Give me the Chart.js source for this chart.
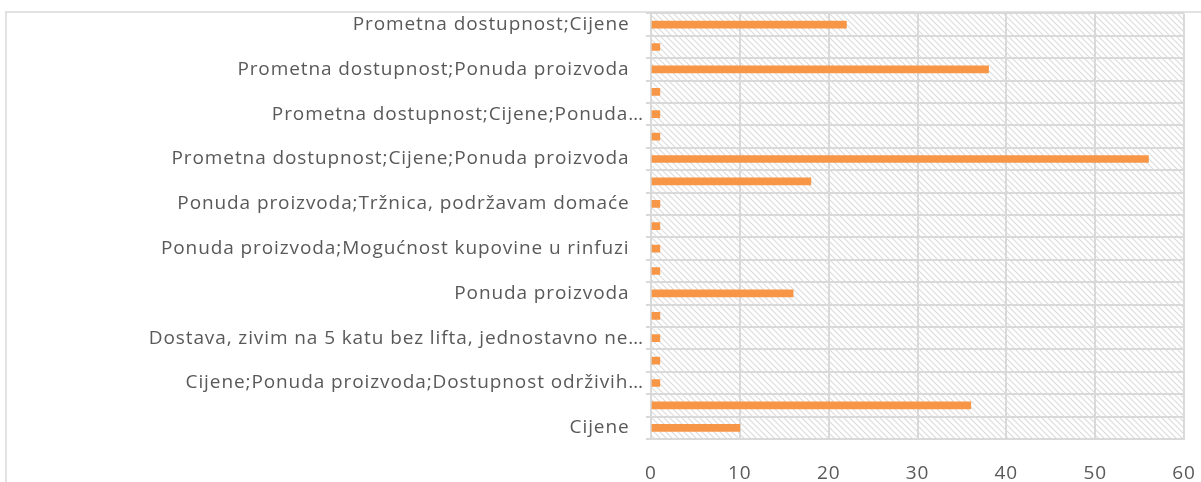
<!DOCTYPE html>
<html>
<head>
<meta charset="utf-8">
<script src="https://cdn.jsdelivr.net/npm/chart.js@4"></script>
<style>
  html, body { margin: 0; padding: 0; background: #ffffff; }
  #wrap { width: 1201px; height: 482px; position: relative; }
</style>
</head>
<body>
<div id="wrap"><canvas id="c" width="1201" height="482"></canvas></div>
<script>
// Categories listed top to bottom as they appear; empty strings are categories whose labels are hidden in the reference
const categories = [
  "Prometna dostupnost;Cijene",
  "",
  "Prometna dostupnost;Ponuda proizvoda",
  "",
  "Prometna dostupnost;Cijene;Ponuda…",
  "",
  "Prometna dostupnost;Cijene;Ponuda proizvoda",
  "",
  "Ponuda proizvoda;Tržnica, podržavam domaće",
  "",
  "Ponuda proizvoda;Mogućnost kupovine u rinfuzi",
  "",
  "Ponuda proizvoda",
  "",
  "Dostava, zivim na 5 katu bez lifta, jednostavno ne…",
  "",
  "Cijene;Ponuda proizvoda;Dostupnost održivih…",
  "",
  "Cijene"
];
const values = [22, 1, 38, 1, 1, 1, 56, 18, 1, 1, 1, 1, 16, 1, 1, 1, 1, 36, 10];
const xTicks = [0, 10, 20, 30, 40, 50, 60];

const GRID = '#d9d9d9';
const TEXT = '#595959';
const FONT = 'Open Sans';

function makeHatch() {
  const s = 6;
  const c = document.createElement('canvas');
  c.width = s; c.height = s;
  const g = c.getContext('2d');
  g.fillStyle = '#ffffff';
  g.fillRect(0, 0, s, s);
  g.strokeStyle = '#dcdcdc';
  g.lineWidth = 1.2;
  for (let k = -1; k <= 1; k++) {
    g.beginPath();
    g.moveTo(k * s - 1, -1);
    g.lineTo(k * s + s + 1, s + 1);
    g.stroke();
  }
  return c;
}

const bgPlugin = {
  id: 'bg',
  beforeDraw(chart) {
    const { ctx, chartArea: a } = chart;
    ctx.letterSpacing = '0.9px';
    ctx.save();
    ctx.fillStyle = ctx.createPattern(makeHatch(), 'repeat');
    ctx.fillRect(a.left, a.top, a.right - a.left, a.bottom - a.top);
    ctx.restore();
  },
  afterDraw(chart) {
    const ctx = chart.ctx;
    ctx.save();
    ctx.strokeStyle = GRID;
    ctx.lineWidth = 1.5;
    ctx.beginPath();
    ctx.moveTo(5, 12);
    ctx.lineTo(1201, 12);
    ctx.moveTo(6, 12);
    ctx.lineTo(6, 482);
    ctx.stroke();
    ctx.restore();
  }
};

new Chart(document.getElementById('c'), {
  type: 'bar',
  data: {
    labels: categories,
    datasets: [{
      data: values,
      backgroundColor: '#f79646',
      borderWidth: 0,
      barThickness: 7
    }]
  },
  options: {
    indexAxis: 'y',
    responsive: false,
    animation: false,
    layout: { padding: { top: 13, right: 17, left: 0, bottom: 0 } },
    plugins: { legend: { display: false }, tooltip: { enabled: false } },
    scales: {
      x: {
        min: 0, max: 60,
        afterBuildTicks(scale) { scale.ticks = xTicks.map(v => ({ value: v })); },
        afterFit(scale) { scale.height = 43; scale.paddingRight = 0; scale.paddingLeft = 0; },
        grid: { color: GRID, lineWidth: 2, drawTicks: false },
        border: { display: true, color: GRID, width: 2 },
        ticks: { color: TEXT, padding: 23, font: { family: FONT, size: 19 } }
      },
      y: {
        afterFit(scale) { scale.width = 651; },
        grid: { color: GRID, lineWidth: 2, offset: true, tickLength: 5 },
        border: { display: true, color: GRID, width: 2 },
        ticks: {
          color: TEXT, padding: 2, autoSkip: false,
          font: { family: FONT, size: 19 },
          // Excel leaves a trailing gap after untruncated labels
          callback(v, i) {
            const t = categories[i];
            return (t && !t.endsWith('…')) ? t + '\u2002\u2009' : t;
          }
        }
      }
    }
  },
  plugins: [bgPlugin]
});
</script>
</body>
</html>
